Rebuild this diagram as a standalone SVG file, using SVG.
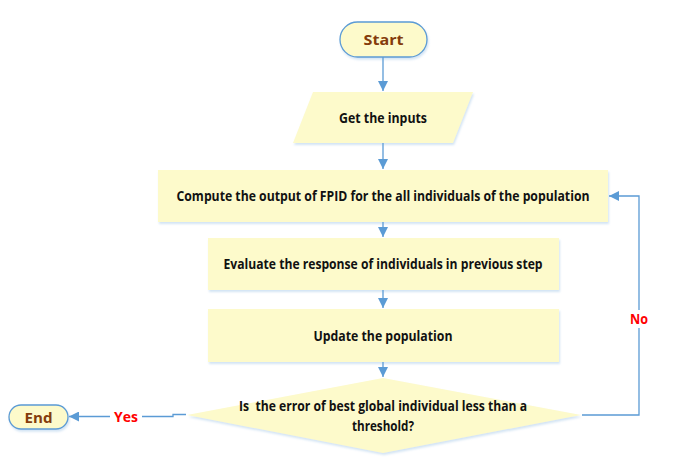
<svg xmlns="http://www.w3.org/2000/svg" width="680" height="457" viewBox="0 0 680 457">
<defs>
<filter id="sh" x="-5%" y="-10%" width="110%" height="130%">
<feDropShadow dx="1" dy="2" stdDeviation="1.2" flood-color="#9dc3e6" flood-opacity="0.45"/>
</filter>
<marker id="ah" viewBox="0 0 10 10" refX="10" refY="5" markerWidth="10" markerHeight="10" markerUnits="userSpaceOnUse" orient="auto">
<path d="M0,0 L10,5 L0,10 Z" fill="#5b9bd5"/>
</marker>
</defs>
<style>
.shape{fill:#fdfacb;filter:url(#sh)}
.term{fill:#fdfacb;stroke:#5b9bd5;stroke-width:1.3;filter:url(#sh)}
.t{font-family:"Open Sans","Noto Sans","Liberation Sans",sans-serif;font-weight:bold;font-size:14.5px;fill:#111;text-anchor:middle;white-space:pre}
.tt{font-family:"Open Sans","Noto Sans","Liberation Sans",sans-serif;font-weight:bold;font-size:15px;fill:#843c0c;text-anchor:middle}
.lbl{font-family:"Open Sans","Noto Sans","Liberation Sans",sans-serif;font-weight:bold;font-size:14px;fill:#ff0000;text-anchor:middle}
.c{fill:none;stroke:#5b9bd5;stroke-width:1.3}
</style>
<rect width="680" height="457" fill="#ffffff"/>
<g id="start">
<rect class="term" x="340" y="22" width="87" height="35" rx="17.5"/>
<text class="tt" x="383.5" y="45" textLength="40" lengthAdjust="spacingAndGlyphs">Start</text>
</g>
<g id="inputs">
<polygon class="shape" points="313,92 473,92 453,143 293,143"/>
<text class="t" x="383" y="122.5" textLength="88" lengthAdjust="spacingAndGlyphs">Get the inputs</text>
</g>
<g id="compute">
<rect class="shape" x="158" y="170" width="450" height="52"/>
<text class="t" x="383" y="200.5" textLength="413" lengthAdjust="spacingAndGlyphs">Compute the output of FPID for the all individuals of the population</text>
</g>
<g id="evaluate">
<rect class="shape" x="208" y="238" width="351" height="52"/>
<text class="t" x="383" y="268.5" textLength="319" lengthAdjust="spacingAndGlyphs">Evaluate the response of individuals in previous step</text>
</g>
<g id="update">
<rect class="shape" x="208" y="309" width="351" height="53"/>
<text class="t" x="383" y="340.5" textLength="139" lengthAdjust="spacingAndGlyphs">Update the population</text>
</g>
<g id="decision">
<polygon class="shape" points="383,378 581,415 383,453 187,415"/>
<text class="t" x="383" y="411" textLength="288" lengthAdjust="spacingAndGlyphs">Is  the error of best global individual less than a</text>
<text class="t" x="383" y="430.5" textLength="62" lengthAdjust="spacingAndGlyphs">threshold?</text>
</g>
<g id="end">
<rect class="term" x="9" y="405" width="59" height="24" rx="12"/>
<text class="tt" x="38.5" y="422.5" textLength="28" lengthAdjust="spacingAndGlyphs">End</text>
</g>
<g id="connectors">
<line class="c" x1="383" y1="57" x2="383" y2="91" marker-end="url(#ah)"/>
<line class="c" x1="383" y1="143" x2="383" y2="169" marker-end="url(#ah)"/>
<line class="c" x1="383" y1="222" x2="383" y2="237" marker-end="url(#ah)"/>
<line class="c" x1="383" y1="290" x2="383" y2="308" marker-end="url(#ah)"/>
<line class="c" x1="383" y1="362" x2="383" y2="377" marker-end="url(#ah)"/>
<polyline class="c" points="186,414.5 173,414.5 173,416.5 69,416.5" marker-end="url(#ah)"/>
<polyline class="c" points="582,415 639,415 639,196 609,196" marker-end="url(#ah)"/>
<rect x="110" y="408" width="32" height="17" fill="#ffffff"/>
<text class="lbl" x="126" y="422" textLength="24" lengthAdjust="spacingAndGlyphs">Yes</text>
<rect x="627" y="310" width="24" height="18" fill="#ffffff"/>
<text class="lbl" x="639" y="324" textLength="18" lengthAdjust="spacingAndGlyphs">No</text>
</g>
</svg>
